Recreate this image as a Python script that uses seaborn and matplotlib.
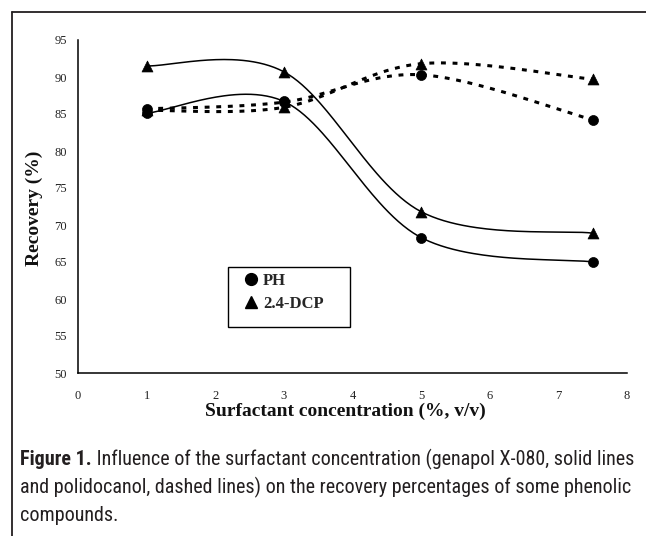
import numpy as np
import pandas as pd
import seaborn as sns
import matplotlib
matplotlib.use("Agg")
import matplotlib.pyplot as plt
from matplotlib.lines import Line2D
from matplotlib.patches import Rectangle
from matplotlib import font_manager as fm

# ---------------- data ----------------
conc = [1, 3, 5, 7.5]
ph_genapol = [85.1, 86.7, 68.3, 65.0]
dcp_genapol = [91.5, 90.7, 71.8, 68.9]
ph_polidocanol = [85.7, 86.6, 90.3, 84.2]
dcp_polidocanol = [85.5, 85.9, 91.8, 89.7]
x_ticks = [0, 1, 2, 3, 4, 5, 6, 7, 8]
y_ticks = [50, 55, 60, 65, 70, 75, 80, 85, 90, 95]
legend_labels = ["PH", "2.4-DCP"]
x_label = "Surfactant concentration (%, v/v)"
y_label = "Recovery (%)"
cap_bold = "Figure 1."
cap_line1 = " Influence of the surfactant concentration (genapol X-080, solid lines"
cap_line2 = "and polidocanol, dashed lines) on the recovery percentages of some phenolic"
cap_line3 = "compounds."

sns.set_theme(style="white")
plt.rcParams["font.family"] = ["Liberation Serif", "DejaVu Serif"]

names = {f.name for f in fm.fontManager.ttflist}
cap_family = next((n for n in ["Liberation Sans Narrow", "DejaVu Sans Condensed",
                               "Roboto Condensed", "Liberation Sans"] if n in names),
                  "DejaVu Sans")


def excel_smooth(xs, ys, n=60):
    """Bezier smoothing of a polyline (as spreadsheet 'smoothed line')."""
    pts = np.column_stack([xs, ys]).astype(float)
    out = []
    for i in range(len(pts) - 1):
        p0 = pts[i - 1] if i > 0 else pts[i]
        p1, p2 = pts[i], pts[i + 1]
        p3 = pts[i + 2] if i + 2 < len(pts) else pts[i + 1]
        b1 = p1 + (p2 - p0) / 6.0
        b2 = p2 - (p3 - p1) / 6.0
        t = np.linspace(0, 1, n)[:, None]
        seg = (1 - t) ** 3 * p1 + 3 * (1 - t) ** 2 * t * b1 + 3 * (1 - t) * t ** 2 * b2 + t ** 3 * p2
        out.append(seg if i == 0 else seg[1:])
    c = np.vstack(out)
    return pd.DataFrame({"x": c[:, 0], "y": c[:, 1]})


W, H = 646, 536
fig = plt.figure(figsize=(W / 100, H / 100), dpi=100)
fig.patch.set_facecolor("white")
ax = fig.add_axes([78 / W, 1 - 373 / H, (627 - 78) / W, (373 - 40) / H])
ax.set_facecolor("white")

series = [
    (ph_genapol, "-", "o"),
    (dcp_genapol, "-", "^"),
    (ph_polidocanol, (0, (1.6, 2.2)), "o"),
    (dcp_polidocanol, (0, (1.6, 2.2)), "^"),
]
for vals, ls, mk in series:
    df = excel_smooth(conc, vals)
    lw = 1.1 if ls == "-" else 2.2
    sns.lineplot(data=df, x="x", y="y", sort=False, estimator=None, color="black",
                 linewidth=lw, linestyle=ls, ax=ax, legend=False, zorder=2)
for vals, ls, mk in series:
    sns.scatterplot(x=conc, y=vals, marker=mk, s=52 if mk == "o" else 62,
                    color="black", edgecolor="black", linewidth=0.5, ax=ax,
                    legend=False, zorder=3)

ax.set_xlim(0, 8)
ax.set_ylim(50, 95)
ax.set_xticks(x_ticks)
ax.set_yticks(y_ticks)
ax.set_xticklabels([str(v) for v in x_ticks])
ax.set_yticklabels([str(v) for v in y_ticks])
for s in ["top", "right"]:
    ax.spines[s].set_visible(False)
for s in ["left", "bottom"]:
    ax.spines[s].set_color("black")
    ax.spines[s].set_linewidth(1.1)
ax.tick_params(axis="both", direction="out", length=3, width=1, color="black",
               labelsize=9, labelcolor="#222222")
ax.tick_params(axis="x", pad=9)
ax.tick_params(axis="y", pad=5)
ax.grid(False)

ax.set_xlabel(x_label, fontsize=14, fontweight="bold", color="#111111")
ax.xaxis.set_label_coords((345 - 78) / (627 - 78), (373 - 411) / (373 - 40))
ax.xaxis.label.set_va("center")
ax.set_ylabel(y_label, fontsize=14, fontweight="bold", color="#111111")
ax.yaxis.set_label_coords((34 - 78) / (627 - 78), (373 - 208) / (373 - 40))
ax.yaxis.label.set_va("center")

# legend
handles = [Line2D([], [], marker="o", ls="", color="black", markersize=8.5, label=legend_labels[0]),
           Line2D([], [], marker="^", ls="", color="black", markersize=9, label=legend_labels[1])]
leg = fig.legend(handles=handles, loc="upper left", bbox_to_anchor=(243 / W, 1 - 273 / H),
                 frameon=False, borderpad=0, borderaxespad=0, handlelength=0.9,
                 handletextpad=0.3, labelspacing=0.4,
                 prop={"family": "Liberation Serif", "weight": "bold", "size": 12})
fig.add_artist(Rectangle((228 / W, 1 - 327 / H), (350 - 228) / W, (327 - 267) / H,
                         transform=fig.transFigure, fill=False, edgecolor="black", lw=1.0))

# outer border (clipped by page)
fig.add_artist(Line2D([12 / W, 1.0], [1 - 12 / H, 1 - 12 / H], transform=fig.transFigure,
                      color="#231f20", lw=1.3))
fig.add_artist(Line2D([12 / W, 12 / W], [1 - 12 / H, 0.0], transform=fig.transFigure,
                      color="#231f20", lw=1.3))

# caption
cap_color = "#231f20"
x0 = 20 / W
base_fs = 13.0
t2 = fig.text(x0, 1 - 493 / H, cap_line2, family=cap_family, fontsize=base_fs,
              color=cap_color, va="baseline", ha="left")
fig.canvas.draw()
r = fig.canvas.get_renderer()
w2 = t2.get_window_extent(r).width
fs = base_fs * (632 - 20) / w2
t2.set_fontsize(fs)
tb = fig.text(x0, 1 - 465 / H, cap_bold, family=cap_family, fontsize=fs, fontweight="bold",
              color=cap_color, va="baseline", ha="left")
fig.canvas.draw()
wb = tb.get_window_extent(r).width
fig.text((20 + wb) / W, 1 - 465 / H, cap_line1, family=cap_family, fontsize=fs,
         color=cap_color, va="baseline", ha="left")
fig.text(x0, 1 - 521 / H, cap_line3, family=cap_family, fontsize=fs,
         color=cap_color, va="baseline", ha="left")

fig.savefig("out.png", dpi=100, facecolor="white")
